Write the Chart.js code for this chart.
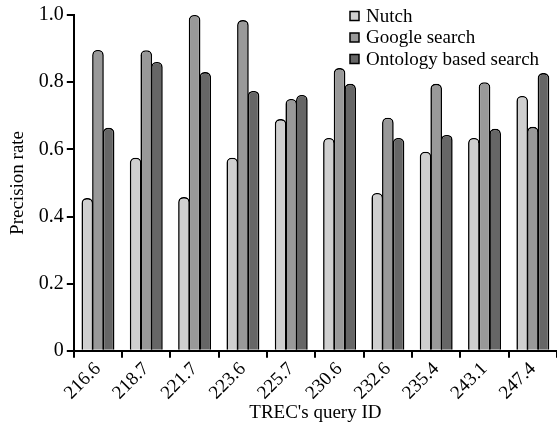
<!DOCTYPE html>
<html>
<head>
<meta charset="utf-8">
<script src="https://cdn.jsdelivr.net/npm/chart.js@4/dist/chart.umd.min.js"></script>
<style>
  html, body { margin: 0; padding: 0; background: #fff; }
  #wrap { width: 557px; height: 434px; }
</style>
</head>
<body>
<div id="wrap"><canvas id="chart" width="557" height="434"></canvas></div>
<script>
// query IDs on the x axis
const queryIds = ['216.6', '218.7', '221.7', '223.6', '225.7', '230.6', '232.6', '235.4', '243.1', '247.4'];

// precision rate per system
const nutch    = [0.455, 0.575, 0.458, 0.575, 0.69, 0.634, 0.47, 0.593, 0.634, 0.759];
const google   = [0.896, 0.895, 1.0, 0.985, 0.75, 0.842, 0.694, 0.795, 0.80, 0.667];
const ontology = [0.664, 0.86, 0.83, 0.774, 0.762, 0.795, 0.634, 0.643, 0.661, 0.827];

const seriesNames = ['Nutch', 'Google search', 'Ontology based search'];
const seriesColors = ['#cfcfcf', '#999999', '#666666'];

const serif = "'Liberation Serif', 'DejaVu Serif', serif";

// legend drawn inside the plot, top right
const insideLegend = {
    id: 'insideLegend',
    afterDraw(chart) {
        const ctx = chart.ctx;
        ctx.save();
        ctx.font = '19px ' + serif;
        ctx.textBaseline = 'middle';
        seriesNames.forEach(function (name, i) {
            const y = 16 + i * 21.5;
            ctx.fillStyle = seriesColors[i];
            ctx.fillRect(350, y - 4.5, 9, 9);
            ctx.strokeStyle = '#000';
            ctx.lineWidth = 1.5;
            ctx.strokeRect(350, y - 4.5, 9, 9);
            ctx.fillStyle = '#000';
            ctx.fillText(name, 366, y + 1);
        });
        ctx.restore();
    }
};

const ctx = document.getElementById('chart').getContext('2d');
new Chart(ctx, {
    type: 'bar',
    data: {
        labels: queryIds,
        datasets: [nutch, google, ontology].map(function (values, i) {
            return {
                label: seriesNames[i],
                data: values,
                backgroundColor: seriesColors[i],
                borderColor: '#000',
                borderWidth: 1.6,
                borderRadius: { topLeft: 5, topRight: 5, bottomLeft: 0, bottomRight: 0 },
                borderSkipped: 'bottom',
                categoryPercentage: 0.66,
                barPercentage: 1.1
            };
        })
    },
    options: {
        responsive: false,
        animation: false,
        layout: { padding: { top: 4, right: 0, left: 7, bottom: 10 } },
        plugins: {
            legend: { display: false },
            tooltip: { enabled: false }
        },
        scales: {
            x: {
                offset: true,
                grid: { offset: true, drawOnChartArea: false, drawTicks: true, tickLength: 7, color: '#000', lineWidth: 2 },
                border: { color: '#000', width: 2 },
                ticks: {
                    color: '#000',
                    font: { family: serif, size: 19 },
                    minRotation: 45,
                    maxRotation: 45,
                    padding: 0
                },
                title: {
                    display: true,
                    text: "TREC's query ID",
                    color: '#000',
                    font: { family: serif, size: 19 },
                    padding: { top: -3, bottom: 0 }
                }
            },
            y: {
                min: 0,
                max: 1,
                grid: { drawOnChartArea: false, drawTicks: true, tickLength: 7, color: '#000', lineWidth: 2 },
                border: { color: '#000', width: 2 },
                ticks: {
                    stepSize: 0.2,
                    color: '#000',
                    font: { family: serif, size: 20 },
                    padding: 3,
                    callback: function (v) { return v === 0 ? '0' : v.toFixed(1); }
                },
                title: {
                    display: true,
                    text: 'Precision rate',
                    color: '#000',
                    font: { family: serif, size: 19 },
                    padding: { top: 0, bottom: 6 }
                }
            }
        }
    },
    plugins: [insideLegend]
});
</script>
</body>
</html>
